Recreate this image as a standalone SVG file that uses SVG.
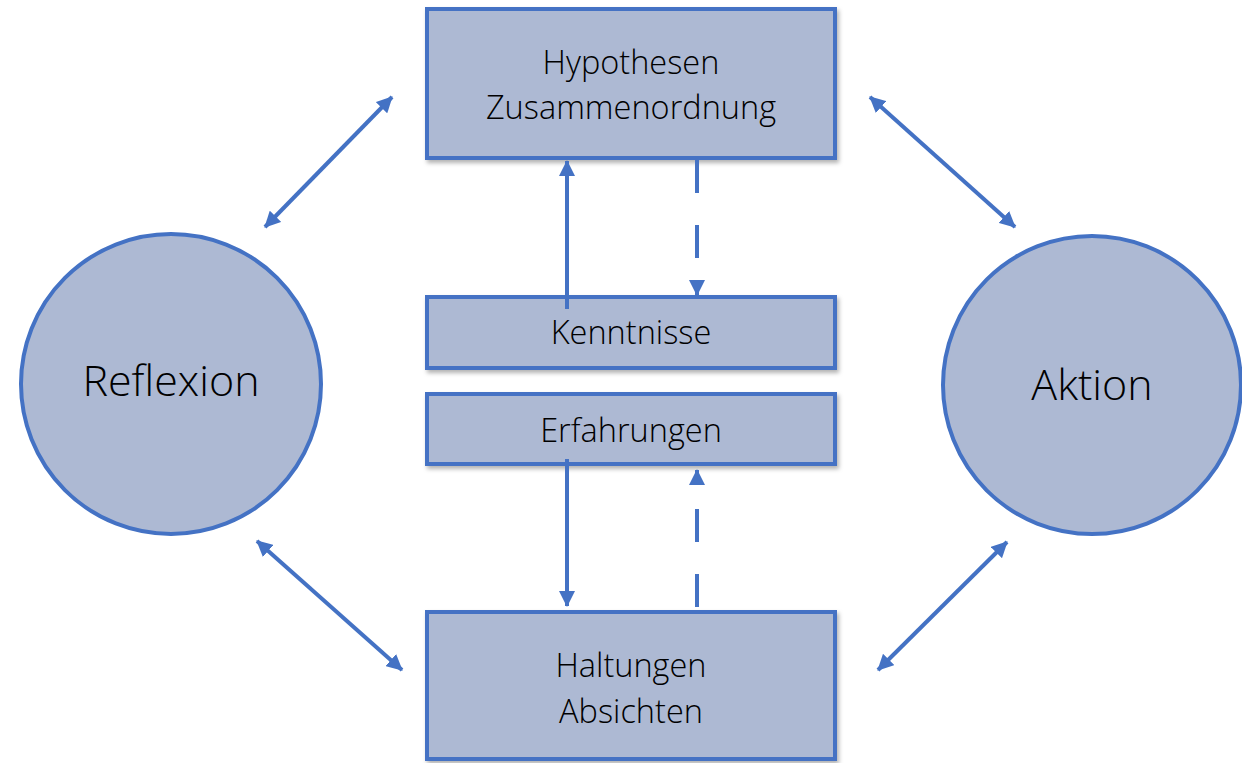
<svg xmlns="http://www.w3.org/2000/svg" width="1242" height="763" viewBox="0 0 1242 763">
<style>
.box{fill:#ADB9D3;stroke:#4472C4;stroke-width:4}
.lbl{font-family:"Open Sans","Liberation Sans",sans-serif;font-weight:300;fill:#000;text-anchor:middle}
.ln{stroke:#4472C4;stroke-width:4;fill:none}
.dash{stroke-dasharray:33 32}
</style>
<defs>
<marker id="ah" viewBox="0 0 16 16" refX="15" refY="8" markerWidth="16" markerHeight="16" markerUnits="userSpaceOnUse" orient="auto-start-reverse">
<path d="M0,0 L16,8 L0,16 Z" fill="#4472C4"/>
</marker>
<filter id="sh" x="-5%" y="-5%" width="115%" height="120%">
<feDropShadow dx="2" dy="3" stdDeviation="2" flood-color="#000" flood-opacity="0.3"/>
</filter>
</defs>
<g id="hypothesen"><rect class="box" x="427" y="9" width="408" height="149" filter="url(#sh)"/>
<text class="lbl" x="631" y="74" font-size="32.5">Hypothesen</text>
<text class="lbl" x="631" y="119" font-size="32.5">Zusammenordnung</text></g>
<g id="kenntnisse"><rect class="box" x="427" y="297" width="408" height="71" filter="url(#sh)"/>
<text class="lbl" x="631" y="344" font-size="32.5">Kenntnisse</text></g>
<g id="erfahrungen"><rect class="box" x="427" y="394" width="408" height="70" filter="url(#sh)"/>
<text class="lbl" x="631" y="442" font-size="32.5">Erfahrungen</text></g>
<g id="haltungen"><rect class="box" x="427" y="612" width="408" height="147" filter="url(#sh)"/>
<text class="lbl" x="631" y="677" font-size="32.5">Haltungen</text>
<text class="lbl" x="631" y="723" font-size="32.5">Absichten</text></g>
<g id="reflexion"><circle class="box" cx="171" cy="384" r="150"/>
<text class="lbl" x="171" y="396" font-size="43">Reflexion</text></g>
<g id="aktion"><circle class="box" cx="1092" cy="385" r="149"/>
<text class="lbl" x="1092" y="400" font-size="43">Aktion</text></g>
<g id="connectors">
<line class="ln" x1="265" y1="227" x2="392" y2="97" marker-start="url(#ah)" marker-end="url(#ah)"/>
<line class="ln" x1="870" y1="97" x2="1015" y2="227" marker-start="url(#ah)" marker-end="url(#ah)"/>
<line class="ln" x1="257" y1="541" x2="402" y2="670" marker-start="url(#ah)" marker-end="url(#ah)"/>
<line class="ln" x1="878" y1="670" x2="1007" y2="542" marker-start="url(#ah)" marker-end="url(#ah)"/>
<line class="ln" x1="567" y1="309" x2="567" y2="161" marker-end="url(#ah)"/>
<line class="ln dash" x1="697" y1="160" x2="697" y2="295" marker-end="url(#ah)"/>
<line class="ln" x1="567" y1="459" x2="567" y2="606" marker-end="url(#ah)"/>
<line class="ln dash" x1="697" y1="607" x2="697" y2="470" marker-end="url(#ah)"/>
</g>
</svg>
